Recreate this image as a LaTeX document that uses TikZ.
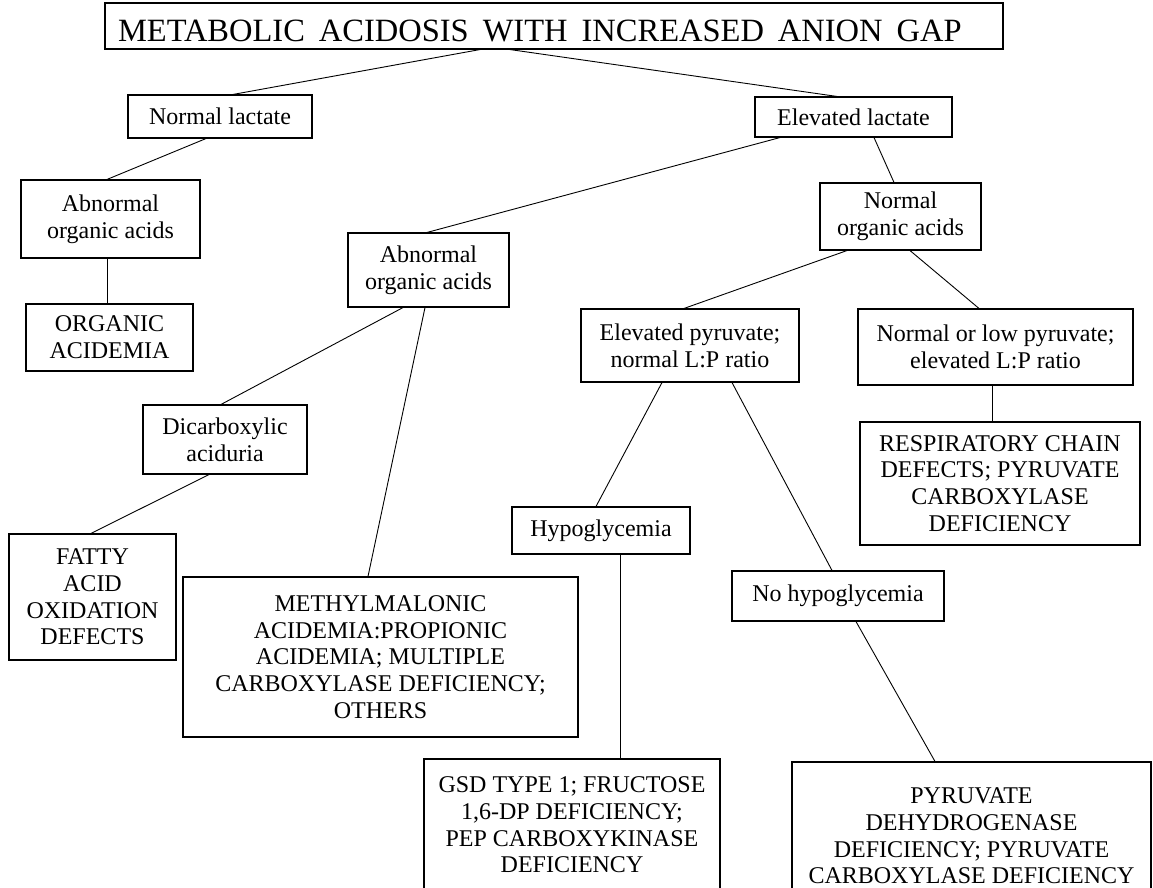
\documentclass[tikz,border=0pt]{standalone}
\usepackage{fontspec}
\setmainfont{Liberation Serif}

\begin{document}
\begin{tikzpicture}[x=1pt, y=-1pt,
        box/.style={draw, line width=1.1pt, align=center, inner sep=0pt,
            font=\fontsize{24}{26.7}\selectfont},
        link/.style={line width=0.9pt}]
        \useasboundingbox (0,0) rectangle (1153,888);

        % Draw top box
        \node[draw, line width=1.1pt, inner xsep=13pt, inner ysep=0pt, text width=872pt, align=left,
            minimum height=46pt, text height=32pt, text depth=0pt,
            font=\fontsize{32.5}{36}\selectfont] (title) at (554,26)
            {\mbox{METABOLIC\hspace{14pt}ACIDOSIS\hspace{14pt}WITH\hspace{14pt}INCREASED\hspace{14pt}ANION\hspace{14pt}GAP}};

        % Draw lactate level
        \node[box, minimum width=184pt, minimum height=43pt] (nlac) at (220,116.5) {Normal lactate};
        \node[box, minimum width=197pt, minimum height=40pt] (elac) at (853.5,117) {Elevated lactate};

        % Draw organic acids level
        \node[box, minimum width=179pt, minimum height=78pt] (aoa1) at (110.5,219) {Abnormal\\organic acids};
        \node[box, minimum width=167pt, minimum height=67pt] (orgac) at (109.5,337.5) {ORGANIC\\ACIDEMIA};
        \node[box, minimum width=161pt, minimum height=74pt] (aoa2) at (428.5,270) {Abnormal\\organic acids};
        \node[box, minimum width=161pt, minimum height=67pt] (noa) at (900.5,216.5) {Normal\\organic acids};

        % Draw pyruvate level
        \node[box, minimum width=218pt, minimum height=73pt] (epyr) at (690,345.5) {Elevated pyruvate;\\normal L:P ratio};
        \node[box, minimum width=275pt, minimum height=76pt] (lpyr) at (995.5,347) {Normal or low pyruvate;\\elevated L:P ratio};
        \node[box, minimum width=164pt, minimum height=69pt] (dica) at (225,439.5) {Dicarboxylic\\aciduria};
        \node[box, minimum width=280pt, minimum height=123pt] (resp) at (1000,483.5)
            {RESPIRATORY CHAIN\\DEFECTS; PYRUVATE\\CARBOXYLASE\\DEFICIENCY};

        % Draw lower boxes
        \node[box, minimum width=167pt, minimum height=126pt] (fatty) at (92.5,597) {FATTY\\ACID\\OXIDATION\\DEFECTS};
        \node[box, minimum width=178pt, minimum height=47pt] (hypo) at (601,530.5) {Hypoglycemia};
        \node[box, minimum width=212pt, minimum height=50pt] (nohypo) at (838,596) {No hypoglycemia};
        \node[box, minimum width=395pt, minimum height=160pt] (mma) at (380.5,657)
            {METHYLMALONIC\\ACIDEMIA:PROPIONIC\\ACIDEMIA; MULTIPLE\\CARBOXYLASE DEFICIENCY;\\OTHERS};
        \node[box, minimum width=296pt, minimum height=132pt] (gsd) at (572,825)
            {GSD TYPE 1; FRUCTOSE\\1,6-DP DEFICIENCY;\\PEP CARBOXYKINASE\\DEFICIENCY};
        \node[box, minimum width=359pt, minimum height=148pt] (pdh) at (971.5,836)
            {PYRUVATE\\DEHYDROGENASE\\DEFICIENCY; PYRUVATE\\CARBOXYLASE DEFICIENCY};

        % Draw connectors
        \draw[link] (title.south -| 480,0) -- (nlac.north -| 233,0);
        \draw[link] (title.south -| 510,0) -- (elac.north -| 837,0);
        \draw[link] (nlac.south -| 206,0) -- (aoa1.north -| 107,0);
        \draw[link] (aoa1.south -| 107,0) -- (orgac.north -| 107,0);
        \draw[link] (elac.south -| 780,0) -- (aoa2.north -| 427,0);
        \draw[link] (elac.south -| 874,0) -- (noa.north -| 894,0);
        \draw[link] (aoa2.south -| 403,0) -- (dica.north -| 221,0);
        \draw[link] (aoa2.south -| 425,0) -- (mma.north -| 368,0);
        \draw[link] (dica.south -| 209,0) -- (fatty.north -| 91,0);
        \draw[link] (noa.south -| 847,0) -- (epyr.north -| 684,0);
        \draw[link] (noa.south -| 910,0) -- (lpyr.north -| 979,0);
        \draw[link] (lpyr.south -| 992,0) -- (resp.north -| 992,0);
        \draw[link] (epyr.south -| 662,0) -- (hypo.north -| 596,0);
        \draw[link] (epyr.south -| 732,0) -- (nohypo.north -| 832,0);
        \draw[link] (hypo.south -| 620,0) -- (gsd.north -| 620,0);
        \draw[link] (nohypo.south -| 856,0) -- (pdh.north -| 935,0);
    \end{tikzpicture}
\end{document}
